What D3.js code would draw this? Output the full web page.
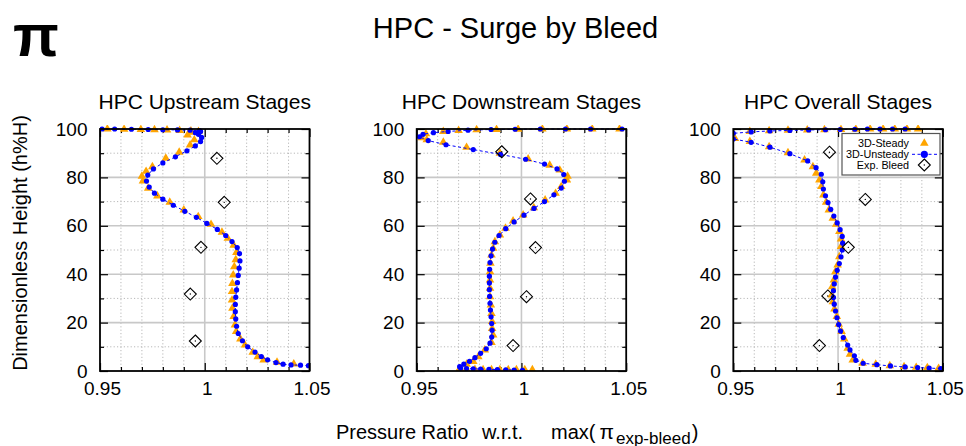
<!DOCTYPE html>
<html><head><meta charset="utf-8">
<script src="https://cdn.jsdelivr.net/npm/d3@7"></script>
<style>body{margin:0;background:#fff}svg{display:block;font-family:"Liberation Sans",Arial,sans-serif}</style>
</head><body><div id="chart"></div>
<script>
// ---------------- DATA ----------------
const panelTitles = ["HPC Upstream Stages", "HPC Downstream Stages", "HPC Overall Stages"];
const xTickLabels = ["0.95", "1", "1.05"];
const xMajor = [0.95, 1.0, 1.05];
const xMinor = [0.96, 0.97, 0.98, 0.99, 1.01, 1.02, 1.03, 1.04];
const yMajor = [0, 20, 40, 60, 80, 100];
const yMinor = [10, 30, 50, 70, 90];
const seriesNames = ["3D-Steady", "3D-Unsteady", "Exp. Bleed"];

// Panel 1 : HPC Upstream Stages  ([height %, pressure ratio])
const upSteady = [[2.9,1.0425],[3.6,1.0345],[4.5,1.0281],[5.9,1.0253],[7.7,1.0229],[10.7,1.0192],[13.2,1.017],[16.3,1.015],[19.0,1.0144],[22.5,1.0138],[25.9,1.0132],[29.3,1.013],[32.8,1.013],[36.2,1.0132],[39.7,1.0136],[43.1,1.0141],[46.0,1.0148],[49.0,1.0151],[52.0,1.0138],[54.8,1.011],[57.3,1.0082],[60.6,1.003],[63.8,0.9969],[66.5,0.990],[69.7,0.9833],[72.3,0.9774],[75.5,0.973],[78.5,0.9705],[80.5,0.970],[82.5,0.972],[84.4,0.975],[87.9,0.9814],[90.4,0.9878],[93.4,0.993],[95.5,0.995],[97.5,0.9918],[98.6,0.9933],[99.0,0.997],[99.2,0.9934],[99.4,0.988],[99.6,0.982],[99.7,0.976],[99.8,0.9695],[99.9,0.9615],[100,0.9535]];
const upUnsteady = [[2.2,1.0495],[2.4,1.0457],[2.5,1.0412],[2.8,1.0374],[3.5,1.034],[4.6,1.030],[6.0,1.027],[7.8,1.024],[10.0,1.0205],[12.5,1.018],[15.5,1.016],[18.5,1.0152],[21.5,1.0148],[24.5,1.0146],[27.5,1.0146],[30.5,1.0148],[33.5,1.0152],[36.5,1.0156],[39.5,1.016],[42.5,1.0164],[45.5,1.0168],[48.5,1.0166],[51.0,1.0155],[53.5,1.013],[56.0,1.010],[58.5,1.006],[61.0,1.001],[63.5,0.996],[66.0,0.9905],[68.5,0.985],[71.0,0.980],[73.5,0.976],[76.0,0.9735],[78.5,0.9722],[81.0,0.9728],[83.5,0.9755],[86.0,0.980],[88.5,0.986],[91.0,0.9915],[93.0,0.9955],[94.8,0.998],[96.5,0.9985],[97.8,0.997],[98.5,0.9955],[99.0,0.998],[99.3,0.9975],[99.5,0.993],[99.6,0.987],[99.7,0.980],[99.8,0.973],[99.9,0.965],[100,0.957],[100,0.951]];
const upExp = [[87.9,1.0058],[69.7,1.0093],[51.1,0.9982],[31.8,0.9931],[12.4,0.9955]];

// Panel 2 : HPC Downstream Stages
const downSteady = [[0.5,1.0052],[0.5,1.0016],[0.5,0.9976],[0.5,0.9937],[0.5,0.9897],[0.5,0.9857],[0.5,0.9817],[0.6,0.9778],[0.7,0.9738],[0.8,0.9706],[1.1,0.9706],[2.8,0.9738],[3.9,0.977],[5.9,0.9794],[8.7,0.9825],[11.8,0.9857],[14.9,0.9865],[17.6,0.986],[20.4,0.986],[23.8,0.9857],[27.3,0.9854],[30.7,0.985],[34.2,0.985],[37.6,0.985],[41.0,0.985],[44.5,0.9852],[47.9,0.9857],[50.7,0.9865],[53.4,0.9873],[56.2,0.9897],[59.0,0.9924],[62.0,0.996],[64.5,1.0008],[67.5,1.0059],[70.7,1.0113],[73.4,1.0163],[76.2,1.019],[78.9,1.0217],[80.5,1.022],[83.0,1.0183],[85.0,1.0135],[87.6,1.0032],[90.0,0.9897],[92.4,0.9738],[94.5,0.9627],[95.5,0.9548],[96.4,0.9524],[98.0,0.9544],[99.0,0.9627],[99.4,0.970],[99.7,0.9786],[99.8,0.9881],[99.9,0.9984],[100,1.010],[100,1.0217],[100,1.0338],[100,1.0468]];
const downUnsteady = [[0.3,1.0005],[0.4,0.9965],[0.5,0.9925],[0.6,0.9885],[0.7,0.9845],[0.8,0.9805],[0.9,0.977],[1.0,0.9738],[1.2,0.971],[1.8,0.9705],[2.8,0.9725],[4.0,0.9752],[5.5,0.9778],[7.3,0.9805],[9.2,0.9832],[11.5,0.985],[14.0,0.9858],[16.8,0.986],[19.6,0.9858],[22.4,0.9855],[25.2,0.9852],[28.0,0.985],[30.8,0.9848],[33.6,0.9847],[36.4,0.9847],[39.2,0.9847],[42.0,0.9848],[44.8,0.985],[47.6,0.9855],[50.4,0.9862],[53.2,0.9873],[56.0,0.9893],[58.8,0.9925],[61.6,0.9965],[64.4,1.0012],[67.2,1.006],[70.0,1.011],[72.8,1.0155],[75.6,1.019],[78.4,1.0205],[81.2,1.0202],[83.5,1.017],[85.5,1.011],[87.5,1.002],[89.5,0.990],[91.5,0.977],[93.5,0.964],[95.2,0.9555],[96.8,0.9513],[97.8,0.953],[98.5,0.958],[99.0,0.965],[99.5,0.9745],[99.8,0.9855],[99.9,0.997],[100,1.009],[100,1.021],[100,1.033],[100,1.048]];
const downExp = [[90.6,0.9906],[71.1,1.0043],[51.0,1.0067],[30.7,1.0024],[10.5,0.996]];

// Panel 3 : HPC Overall Stages
const allSteady = [[1.1,1.048],[1.4,1.0426],[1.5,1.0373],[1.8,1.0315],[2.2,1.0247],[2.8,1.018],[3.2,1.0117],[4.5,1.007],[6.9,1.0057],[9.4,1.0046],[13.2,1.003],[16.3,1.0017],[19.3,1.0003],[22.5,0.9994],[25.6,0.9983],[28.6,0.9975],[31.4,0.997],[34.8,0.9972],[37.6,0.998],[41.0,0.9987],[43.8,0.9998],[47.2,1.0006],[51.4,1.0014],[54.5,1.0014],[57.6,1.0006],[60.6,0.9991],[63.1,0.9975],[66.5,0.9956],[69.7,0.9943],[72.7,0.993],[76.2,0.992],[78.9,0.9911],[81.7,0.9896],[84.4,0.988],[87.2,0.984],[90.2,0.9761],[92.7,0.9671],[94.8,0.9579],[96.1,0.9508],[99.0,0.9579],[99.3,0.9671],[99.5,0.9761],[99.6,0.9853],[99.7,0.9935],[99.8,1.0014],[99.9,1.0085],[100,1.0153],[100,1.0215],[100,1.0271],[100,1.0329],[100,1.0382]];
const allUnsteady = [[1.0,1.049],[1.2,1.0435],[1.4,1.038],[1.7,1.032],[2.1,1.025],[2.6,1.0185],[3.2,1.012],[4.4,1.0085],[6.3,1.0078],[8.7,1.0057],[10.7,1.0046],[13.8,1.0025],[16.5,1.0012],[19.2,1.0003],[22.0,0.9995],[24.8,0.9988],[27.6,0.9982],[30.4,0.9978],[33.2,0.9978],[36.0,0.9982],[38.8,0.9988],[41.6,0.9996],[44.4,1.0006],[47.2,1.0014],[50.0,1.002],[52.8,1.0022],[55.6,1.002],[58.4,1.001],[61.2,0.9996],[64.0,0.998],[66.8,0.9965],[69.6,0.9952],[72.4,0.994],[75.2,0.993],[78.2,0.9927],[81.3,0.992],[84.0,0.9895],[86.8,0.9855],[89.8,0.977],[92.5,0.9675],[94.5,0.9585],[95.9,0.950],[98.2,0.950],[98.8,0.9585],[99.2,0.9675],[99.4,0.977],[99.6,0.986],[99.7,0.994],[99.8,1.001],[99.9,1.008],[100,1.014],[100,1.020],[100,1.026],[100,1.032]];
const allExp = [[90.4,0.9959],[70.9,1.013],[51.1,1.0049],[31.0,0.9951],[10.5,0.9911]];

const panelSteady = [upSteady, downSteady, allSteady];
const panelUnsteady = [upUnsteady, downUnsteady, allUnsteady];
const panelExp = [upExp, downExp, allExp];

// ---------------- LAYOUT ----------------
const W = 966, H = 446;
const panelLeft = [100, 416.7, 733.3];
const panelW = 209.5, plotTop = 129, plotBottom = 371;
const ORANGE = "#ffa500", BLUE = "#0000ff";
const FONT = "'Liberation Sans', Arial, sans-serif";

const svg = d3.select("#chart").append("svg").attr("width", W).attr("height", H);
svg.append("rect").attr("width", W).attr("height", H).attr("fill", "#fff");

const triPath = d3.symbol().type(d3.symbolTriangle).size(32)();
const diamondPath = "M0,-6L6,0L0,6L-6,0Z";

panelTitles.forEach((title, i) => {
  const x = d3.scaleLinear().domain([0.95, 1.05]).range([panelLeft[i], panelLeft[i] + panelW]);
  const y = d3.scaleLinear().domain([0, 100]).range([plotBottom, plotTop]);
  const g = svg.append("g");

  // grid
  g.append("g").selectAll("line").data(xMinor).join("line")
    .attr("x1", d => x(d)).attr("x2", d => x(d)).attr("y1", plotTop).attr("y2", plotBottom)
    .attr("stroke", "#b8b8b8").attr("stroke-width", 1).attr("stroke-dasharray", "1.2,2.2");
  g.append("g").selectAll("line").data(yMinor).join("line")
    .attr("y1", d => y(d)).attr("y2", d => y(d)).attr("x1", panelLeft[i]).attr("x2", panelLeft[i] + panelW)
    .attr("stroke", "#b8b8b8").attr("stroke-width", 1).attr("stroke-dasharray", "1.2,2.2");
  g.append("g").selectAll("line").data([1.0]).join("line")
    .attr("x1", d => x(d)).attr("x2", d => x(d)).attr("y1", plotTop).attr("y2", plotBottom)
    .attr("stroke", "#c8c8c8").attr("stroke-width", 1.6);
  g.append("g").selectAll("line").data([20, 40, 60, 80]).join("line")
    .attr("y1", d => y(d)).attr("y2", d => y(d)).attr("x1", panelLeft[i]).attr("x2", panelLeft[i] + panelW)
    .attr("stroke", "#c8c8c8").attr("stroke-width", 1.6);

  // inward tick marks via axes
  const tickAxes = [
    [d3.axisBottom(x).tickValues(xMajor).tickSize(-8), `translate(0,${plotBottom})`],
    [d3.axisBottom(x).tickValues(xMinor).tickSize(-4), `translate(0,${plotBottom})`],
    [d3.axisTop(x).tickValues(xMajor).tickSize(-8), `translate(0,${plotTop})`],
    [d3.axisTop(x).tickValues(xMinor).tickSize(-4), `translate(0,${plotTop})`],
    [d3.axisLeft(y).tickValues(yMajor).tickSize(-8), `translate(${panelLeft[i]},0)`],
    [d3.axisLeft(y).tickValues(yMinor).tickSize(-4), `translate(${panelLeft[i]},0)`],
    [d3.axisRight(y).tickValues(yMajor).tickSize(-8), `translate(${panelLeft[i] + panelW},0)`],
    [d3.axisRight(y).tickValues(yMinor).tickSize(-4), `translate(${panelLeft[i] + panelW},0)`]
  ];
  tickAxes.forEach(([ax, tr]) => {
    const a = g.append("g").attr("transform", tr).call(ax.tickFormat(""));
    a.select(".domain").remove();
    a.selectAll(".tick line").attr("stroke", "#000").attr("stroke-width", 1.2);
  });

  // tick labels
  const xl = g.append("g").attr("transform", `translate(0,${plotBottom})`)
    .call(d3.axisBottom(x).tickValues(xMajor).tickSize(0).tickPadding(10.5).tickFormat((d, k) => xTickLabels[k]));
  xl.select(".domain").remove();
  xl.selectAll("text").attr("font-family", FONT).attr("font-size", 19).attr("fill", "#000").attr("dx", 2);
  const yl = g.append("g").attr("transform", `translate(${panelLeft[i]},0)`)
    .call(d3.axisLeft(y).tickValues(yMajor).tickSize(0).tickPadding(12.5).tickFormat(d3.format("d")));
  yl.select(".domain").remove();
  yl.selectAll("text").attr("font-family", FONT).attr("font-size", 19).attr("fill", "#000");

  // clip
  const cid = "clip" + i;
  svg.append("clipPath").attr("id", cid).append("rect")
    .attr("x", panelLeft[i]).attr("y", plotTop - 4).attr("width", panelW).attr("height", plotBottom - plotTop + 4);
  const plot = g.append("g").attr("clip-path", `url(#${cid})`);

  // steady triangles
  plot.append("g").selectAll("path").data(panelSteady[i]).join("path")
    .attr("d", triPath).attr("transform", d => `translate(${x(d[1])},${y(d[0])})`)
    .attr("fill", ORANGE);

  // unsteady dashed line + dots
  const line = d3.line().x(d => x(d[1])).y(d => y(d[0]));
  plot.append("path").datum(panelUnsteady[i]).attr("d", line)
    .attr("fill", "none").attr("stroke", BLUE).attr("stroke-width", 1).attr("stroke-dasharray", "3,2.5");
  plot.append("g").selectAll("circle").data(panelUnsteady[i]).join("circle")
    .attr("cx", d => x(d[1])).attr("cy", d => y(d[0])).attr("r", 2.6).attr("fill", BLUE);

  // experimental diamonds
  const ex = plot.append("g").selectAll("g").data(panelExp[i]).join("g")
    .attr("transform", d => `translate(${x(d[1])},${y(d[0])})`);
  ex.append("path").attr("d", diamondPath).attr("fill", "none").attr("stroke", "#000").attr("stroke-width", 1.1);
  ex.append("circle").attr("r", 0.7).attr("fill", "#000");

  // border
  g.append("rect").attr("x", panelLeft[i]).attr("y", plotTop).attr("width", panelW).attr("height", plotBottom - plotTop)
    .attr("fill", "none").attr("stroke", "#000").attr("stroke-width", 1.8);

  // panel title
  g.append("text").attr("x", panelLeft[i] + panelW / 2).attr("y", 108.5).attr("text-anchor", "middle")
    .attr("font-family", FONT).attr("font-size", 21).text(title);
});

// legend (panel 3)
const lg = svg.append("g");
lg.append("rect").attr("x", 842).attr("y", 133.5).attr("width", 98).attr("height", 41.5)
  .attr("fill", "#fff").attr("stroke", "#555").attr("stroke-width", 1.2);
const rowsY = [143.3, 154.3, 165];
seriesNames.forEach((n, k) => {
  lg.append("text").attr("x", 909).attr("y", rowsY[k]).attr("dy", "0.35em").attr("text-anchor", "end")
    .attr("font-family", FONT).attr("font-size", 10.8).text(n);
});
lg.append("path").attr("d", triPath).attr("transform", `translate(924.3,${rowsY[0]})`).attr("fill", ORANGE);
lg.append("line").attr("x1", 912).attr("x2", 938).attr("y1", rowsY[1]).attr("y2", rowsY[1])
  .attr("stroke", BLUE).attr("stroke-width", 1).attr("stroke-dasharray", "3,2.5");
lg.append("circle").attr("cx", 924.3).attr("cy", rowsY[1]).attr("r", 3.6).attr("fill", BLUE);
lg.append("path").attr("d", diamondPath).attr("transform", `translate(924.3,${rowsY[2]})`)
  .attr("fill", "none").attr("stroke", "#000").attr("stroke-width", 1.1);
lg.append("circle").attr("cx", 924.3).attr("cy", rowsY[2]).attr("r", 0.7).attr("fill", "#000");

// main title, pi symbol, axis labels
svg.append("text").attr("x", 515.5).attr("y", 38).attr("text-anchor", "middle")
  .attr("font-family", FONT).attr("font-size", 29).text("HPC - Surge by Bleed");
svg.append("text").attr("x", 13).attr("y", 56).attr("font-family", FONT).attr("font-weight", "bold")
  .attr("font-size", 60).text("π");
svg.append("text").attr("transform", "translate(27,243) rotate(-90)").attr("text-anchor", "middle")
  .attr("font-family", FONT).attr("font-size", 20).text("Dimensionless Height (h%H)");

const xlab = svg.append("text").attr("font-family", FONT).attr("font-size", 20).attr("y", 438.5)
  .attr("xml:space", "preserve").style("white-space", "pre");
xlab.append("tspan").attr("x", 336).text("Pressure Ratio");
xlab.append("tspan").attr("x", 482).text("w.r.t.");
xlab.append("tspan").attr("x", 551).text("max(");
xlab.append("tspan").attr("dx", 4).attr("font-size", 21).text("π");
xlab.append("tspan").attr("dx", 2).attr("dy", 5).attr("font-size", 17).text("exp-bleed");
xlab.append("tspan").attr("dx", 1).attr("dy", -5).text(")");
</script></body></html>
